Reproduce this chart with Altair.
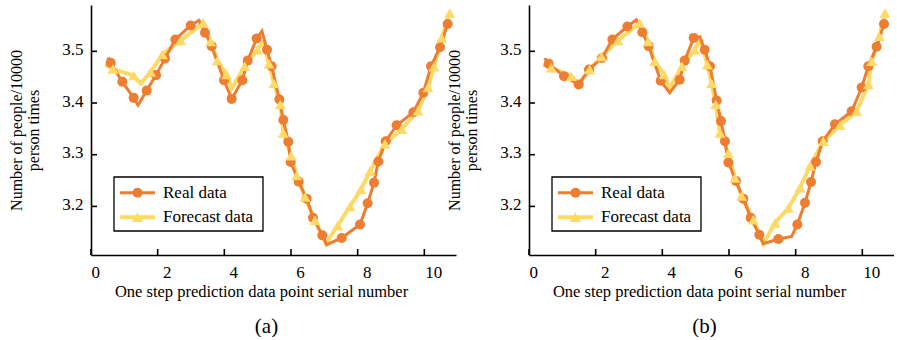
import altair as alt
import pandas as pd

# ---------------- data ----------------
SERIES = ["Real data", "Forecast data"]
X_TICKS = [0, 2, 4, 6, 8, 10]
Y_TICKS = [3.2, 3.3, 3.4, 3.5]
PANEL_TAGS = ["(a)", "(b)"]
X_TITLE = "One step prediction data point serial number"
Y_TITLE = ["Number of people/10000", "person times"]

# panel (a) - real data (m = 1 where a marker is drawn)
A_REAL_X = [0.51, 0.59, 0.94, 1.28, 1.41, 1.67, 1.95, 2.22, 2.53, 2.99, 3.24, 3.42, 3.62, 3.99, 4.22,
            4.54, 4.70, 4.97, 5.13, 5.28, 5.42, 5.65, 5.77, 5.92, 5.99, 6.23, 6.47, 6.66, 6.94, 7.07,
            7.52, 8.07, 8.30, 8.49, 8.62, 8.84, 9.17, 9.67, 9.97, 10.20, 10.47, 10.70]
A_REAL_Y = [3.488, 3.478, 3.441, 3.410, 3.396, 3.424, 3.454, 3.486, 3.523, 3.550, 3.560, 3.536, 3.510,
            3.444, 3.408, 3.444, 3.482, 3.525, 3.539, 3.503, 3.471, 3.407, 3.367, 3.325, 3.286, 3.248,
            3.215, 3.178, 3.144, 3.126, 3.139, 3.165, 3.206, 3.246, 3.287, 3.326, 3.357, 3.382, 3.420,
            3.471, 3.508, 3.553]
A_REAL_M = [0, 1, 1, 1, 0, 1, 1, 1, 1, 1, 0, 1, 1, 1, 1, 1, 1, 1, 0, 1, 1, 1, 1, 1, 1, 1, 1, 1, 1, 0,
            1, 1, 1, 1, 1, 1, 1, 1, 1, 1, 1, 1]
# panel (a) - forecast data
A_FC_X = [0.42, 0.66, 1.28, 1.49, 1.79, 2.14, 2.69, 3.37, 3.59, 3.79, 4.07, 4.22, 4.61, 4.99, 5.17,
          5.34, 5.49, 5.68, 5.77, 6.00, 6.17, 6.42, 6.72, 7.05, 7.40, 7.77, 8.10, 8.37, 8.82, 9.32,
          9.81, 10.11, 10.29, 10.52, 10.76]
A_FC_Y = [3.474, 3.466, 3.453, 3.438, 3.460, 3.494, 3.521, 3.555, 3.519, 3.482, 3.455, 3.428, 3.471,
          3.503, 3.518, 3.476, 3.438, 3.397, 3.342, 3.298, 3.260, 3.218, 3.173, 3.128, 3.163, 3.200,
          3.233, 3.268, 3.321, 3.349, 3.385, 3.430, 3.470, 3.526, 3.574]
A_FC_M = [0, 1, 1, 0, 1, 1, 1, 1, 1, 1, 1, 0, 1, 1, 0, 1, 1, 1, 1, 1, 1, 1, 1, 0, 1, 1, 1, 1, 1, 1,
          1, 1, 1, 1, 1]

# panel (b) - real data
B_REAL_X = [0.47, 0.59, 1.05, 1.49, 1.80, 2.19, 2.50, 2.95, 3.22, 3.40, 3.59, 3.95, 4.22, 4.52, 4.67,
            4.94, 5.12, 5.27, 5.43, 5.63, 5.76, 5.88, 5.98, 6.21, 6.43, 6.65, 6.91, 7.03, 7.48, 7.88,
            8.05, 8.28, 8.46, 8.61, 8.81, 9.18, 9.68, 9.98, 10.18, 10.43, 10.65]
B_REAL_Y = [3.487, 3.476, 3.452, 3.436, 3.465, 3.487, 3.523, 3.548, 3.561, 3.537, 3.510, 3.443, 3.420,
            3.445, 3.482, 3.526, 3.528, 3.503, 3.471, 3.405, 3.365, 3.326, 3.285, 3.249, 3.215, 3.178,
            3.145, 3.128, 3.137, 3.142, 3.165, 3.207, 3.247, 3.286, 3.326, 3.359, 3.384, 3.430, 3.471,
            3.509, 3.553]
B_REAL_M = [0, 1, 1, 1, 1, 1, 1, 1, 0, 1, 1, 1, 0, 1, 1, 1, 0, 1, 1, 1, 1, 1, 1, 1, 1, 1, 1, 0, 1, 0,
            1, 1, 1, 1, 1, 1, 1, 1, 1, 1, 1]
# panel (b) - forecast data
B_FC_X = [0.42, 0.67, 1.27, 1.49, 1.82, 2.17, 2.67, 3.32, 3.57, 3.77, 4.05, 4.22, 4.59, 4.97, 5.15,
          5.35, 5.48, 5.60, 5.73, 5.98, 6.18, 6.38, 6.73, 7.03, 7.38, 7.78, 8.13, 8.43, 8.83, 9.33,
          9.83, 10.18, 10.28, 10.51, 10.68]
B_FC_Y = [3.474, 3.468, 3.452, 3.436, 3.465, 3.490, 3.521, 3.555, 3.519, 3.481, 3.455, 3.429, 3.471,
          3.503, 3.523, 3.474, 3.438, 3.397, 3.342, 3.303, 3.255, 3.220, 3.174, 3.128, 3.168, 3.197,
          3.236, 3.278, 3.326, 3.357, 3.384, 3.436, 3.481, 3.529, 3.574]
B_FC_M = [0, 1, 1, 0, 1, 1, 1, 1, 1, 1, 1, 0, 1, 1, 0, 1, 1, 1, 1, 1, 1, 1, 1, 0, 1, 1, 1, 1, 1, 1,
          1, 1, 1, 1, 1]

# ---------------- style ----------------
FONT = "Liberation Serif"
ORANGE = "#ED7D31"
YELLOW = "#FFD966"
W, H = 365, 250
XDOM = [0, 10.95]
YDOM = [3.106, 3.5896]
CIRCLE_SIZE = 100
TRI_SIZE = 120
ORANGE_W = 3.0
YELLOW_W = 4.0


def panel(rx, ry, rm, fx, fy, fm, tag):
    real = pd.DataFrame({"x": rx, "y": ry, "m": rm, "i": list(range(len(rx)))})
    fc = pd.DataFrame({"x": fx, "y": fy, "m": fm, "i": list(range(len(fx)))})

    xs = alt.Scale(domain=XDOM, nice=False, zero=False)
    ys = alt.Scale(domain=YDOM, nice=False, zero=False)
    xaxis = alt.Axis(
        values=X_TICKS, ticks=False, grid=False, domainColor="black", domainWidth=1.6,
        labelFont=FONT, labelFontSize=17, labelColor="black", labelPadding=9,
        labelOffset={"condition": {"test": "datum.value === 0", "value": 0}, "value": 9},
        title=X_TITLE, titleFont=FONT, titleFontSize=16.5, titleFontWeight="normal",
        titleColor="black", titleX=170, titlePadding=3,
    )
    yaxis = alt.Axis(
        values=Y_TICKS, format=".1f", ticks=False, grid=False, domainColor="black",
        domainWidth=1.6, labelFont=FONT, labelFontSize=17, labelColor="black",
        labelPadding=8, labelOffset=-2,
        title=Y_TITLE, titleFont=FONT, titleFontSize=16, titleFontWeight="normal",
        titleColor="black", titleLineHeight=17, titlePadding=20,
    )
    X = alt.X("x:Q", scale=xs, axis=xaxis)
    Y = alt.Y("y:Q", scale=ys, axis=yaxis)

    fc_line = alt.Chart(fc).mark_line(color=YELLOW, strokeWidth=YELLOW_W).encode(x=X, y=Y, order="i:Q")
    real_line = alt.Chart(real).mark_line(color=ORANGE, strokeWidth=ORANGE_W).encode(x=X, y=Y, order="i:Q")
    real_pts = (
        alt.Chart(real).transform_filter("datum.m == 1")
        .mark_point(shape="circle", filled=True, size=CIRCLE_SIZE, color=ORANGE, opacity=1)
        .encode(x=X, y=Y)
    )
    fc_pts = (
        alt.Chart(fc).transform_filter("datum.m == 1")
        .mark_point(shape="triangle-up", filled=True, size=TRI_SIZE, color=YELLOW, opacity=1)
        .encode(x=X, y=Y)
    )
    yticks = (
        alt.Chart(pd.DataFrame({"y": Y_TICKS})).mark_rule(color="black", strokeWidth=1.6)
        .encode(x=alt.value(0), x2=alt.value(6), y=Y)
    )
    xticks = (
        alt.Chart(pd.DataFrame({"x": X_TICKS})).mark_rule(color="black", strokeWidth=1.6)
        .encode(x=X, y=alt.value(H), y2=alt.value(H - 6))
    )

    # legend box
    box = (
        alt.Chart(pd.DataFrame({"a": [0]}))
        .mark_rect(fill="white", stroke="black", strokeWidth=1.3)
        .encode(x=alt.value(23), x2=alt.value(172), y=alt.value(172), y2=alt.value(226))
    )
    legend_layers = [box]
    for k, (name, color, shape, sw, sz) in enumerate(
        [(SERIES[0], ORANGE, "circle", ORANGE_W, CIRCLE_SIZE),
         (SERIES[1], YELLOW, "triangle-up", YELLOW_W, TRI_SIZE)]
    ):
        yy = 187.7 + k * 24.6
        d = pd.DataFrame({"series": [name]})
        legend_layers.append(
            alt.Chart(d).mark_rule(color=color, strokeWidth=sw)
            .encode(x=alt.value(29), x2=alt.value(64), y=alt.value(yy))
        )
        legend_layers.append(
            alt.Chart(d).mark_point(shape=shape, filled=True, size=sz, color=color, opacity=1)
            .encode(x=alt.value(46.5), y=alt.value(yy))
        )
        legend_layers.append(
            alt.Chart(d).mark_text(align="left", baseline="middle", font=FONT, fontSize=17,
                                   color="black")
            .encode(x=alt.value(72), y=alt.value(yy), text="series:N")
        )

    return alt.layer(fc_line, real_line, real_pts, fc_pts, yticks, xticks, *legend_layers).properties(
        width=W, height=H,
        title=alt.TitleParams(text=tag, orient="bottom", anchor="middle", font=FONT, fontSize=21,
                              fontWeight="normal", color="black", dx=-7, offset=16),
    )


left = panel(A_REAL_X, A_REAL_Y, A_REAL_M, A_FC_X, A_FC_Y, A_FC_M, PANEL_TAGS[0])
right = panel(B_REAL_X, B_REAL_Y, B_REAL_M, B_FC_X, B_FC_Y, B_FC_M, PANEL_TAGS[1])

chart = (
    alt.hconcat(left, right, spacing=73, bounds="flush")
    .properties(padding={"left": 8, "top": 5, "right": 0, "bottom": 0}, background="white")
    .configure_view(stroke=None)
)

chart.save("out.html", embed_options={"renderer": "svg", "actions": False})
